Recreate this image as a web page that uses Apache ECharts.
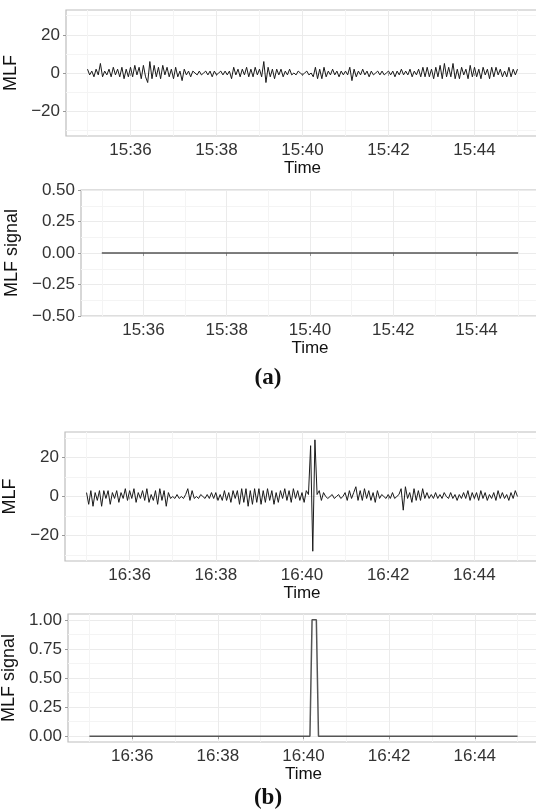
<!DOCTYPE html>
<html>
<head>
<meta charset="utf-8">
<script src="https://cdn.jsdelivr.net/npm/echarts@6/dist/echarts.min.js"></script>
<style>
  html, body { margin: 0; padding: 0; background: #fff; }
  #chart { width: 536px; height: 812px; }
</style>
</head>
<body>
<div id="chart"></div>
<script>
// MLF trace is sampled every 3 s from the start time
const sampleStep = 3
const startA = '15:35:00'
const startB = '16:35:00'

const mlfA = [
  2, -1, 1, -2, 2, -1, 5, -2, 1, -1, 2, -2, 3, -1, 2, -2, 3, -3, 2, -2,
  3, -2, 4, -1, 3, -3, 4, -2, -5, 6, -3, 4, -2, 3, -3, 4, -1, 3, -2, 2,
  -3, 3, -2, 1, -4, 2, -1, 1, -2, 1, 0, -1, 1, -1, 0, 1, -1, 1, -2, 1,
  -1, 0, 1, -1, 1, -1, 1, -3, 3, -1, 2, -2, 2, -1, 3, -2, 2, -2, 3, -1,
  2, -2, 6, -5, 3, -2, 2, -3, 2, -1, 2, -2, 1, -1, 2, -1, 0, -1, 1, 0,
  -1, 0, 1, -1, 0, -2, 3, -3, 2, -3, 3, -2, 1, -1, 2, -1, 1, -2, 1, -1,
  1, -1, 3, -4, 2, -2, 1, -1, 2, -1, 1, -2, 1, -1, 0, 1, -1, 1, -1, 0,
  1, -1, 1, -2, 1, -1, 2, -1, 1, -1, 2, -2, 1, -1, 2, -2, 3, -2, 3, -2,
  2, -3, 3, -2, 4, -3, 5, -2, 3, -2, 5, -3, 2, -3, 3, -1, 2, -3, 4, -2,
  3, -2, 2, -3, 3, -1, 2, -3, 3, -2, 3, -1, 2, -2, 1, -2, 3, -2, 2, -1, 2
]

const mlfB = [
  2, -4, 3, -5, 2, -2, 3, -5, 3, -1, 3, -4, 2, -1, 3, -3, 2, -1, 4, -2,
  3, -1, 4, -3, 2, -1, 3, -2, 4, -3, 1, -2, 3, -4, 4, -2, 3, -5, 2, -1,
  0, -1, 1, -1, 0, -1, 1, 4, -2, 3, -1, 0, -1, 1, 0, -1, 1, -1, 2, -1,
  2, -2, 1, -2, 3, -2, 2, -3, 3, -1, 3, -4, 4, -3, 4, -5, 3, -4, 4, -3,
  4, -4, 3, -3, 4, -2, 3, -4, 2, -3, 3, -1, 4, -2, 3, -3, 4, -1, 3, -2,
  2, -3, 3, 1, 26, -28, 29, 1, 3, -2, 2, 0, -1, 0, 1, -1, 0, 1, -1, 0,
  2, -2, 3, -1, 2, 5, -2, 3, -2, 4, -1, 3, -2, 2, -3, 3, -1, 1, 0, -1,
  1, -1, 2, -1, 0, 1, 4, -7, 5, -1, 2, -3, 4, -2, 3, -2, 4, -1, 2, -1,
  1, -1, 2, -1, 1, -1, 2, 0, -1, 2, -1, 1, -2, 1, -1, 2, -1, 3, -2, 2,
  -1, 2, -2, 3, -1, 2, -2, 1, -1, 2, -2, 3, -1, 2, -1, 1, -2, 2, -1, 3, 0
]

// detection signal, given at its corner points
const signalTimesA = ['15:35:00', '15:45:00']
const signalA = [0, 0]
const signalTimesB = ['16:35:00', '16:40:09', '16:40:12', '16:40:18', '16:40:21', '16:45:00']
const signalB = [0, 0, 1, 1, 0, 0]

const timeTicksA = ['15:36', '15:38', '15:40', '15:42', '15:44']
const timeMinorA = ['15:35', '15:37', '15:39', '15:41', '15:43', '15:45']
const timeTicksB = ['16:36', '16:38', '16:40', '16:42', '16:44']
const timeMinorB = ['16:35', '16:37', '16:39', '16:41', '16:43', '16:45']

const mlfTicks = [-20, 0, 20]
const mlfMinor = [-30, -10, 10, 30]
const signalTicksA = [-0.5, -0.25, 0, 0.25, 0.5]
const signalMinorA = [-0.375, -0.125, 0.125, 0.375]
const signalTicksB = [0, 0.25, 0.5, 0.75, 1]
const signalMinorB = [0.125, 0.375, 0.625, 0.875]

// 'hh:mm[:ss]' -> minutes since midnight
function toMin(t) {
  const p = t.split(':').map(Number)
  return p[0] * 60 + p[1] + (p[2] || 0) / 60
}
function fmtTime(v) {
  const h = Math.floor(v / 60)
  const m = Math.round(v - h * 60)
  return h + ':' + (m < 10 ? '0' + m : m)
}
function fmtNum(digits) {
  return v => (v < 0 ? '\u2212' : '') + Math.abs(v).toFixed(digits)
}

const font = 'Liberation Sans, Arial, sans-serif'
const majorLine = { show: true, lineStyle: { color: '#ebebeb', width: 1 } }
const minorLine = { show: true, lineStyle: { color: '#f4f4f4', width: 1 } }

const panels = [
  { grid: { left: 66, top: 10, height: 126 }, x: [timeTicksA, timeMinorA, startA],
    y: { min: -33, max: 33, ticks: mlfTicks, minor: mlfMinor, name: 'MLF', gap: 36, fmt: fmtNum(0) } },
  { grid: { left: 81, top: 190, height: 126 }, x: [timeTicksA, timeMinorA, startA],
    y: { min: -0.5, max: 0.5, ticks: signalTicksA, minor: signalMinorA, name: 'MLF signal', gap: 51, fmt: fmtNum(2) } },
  { grid: { left: 65, top: 432, height: 129 }, x: [timeTicksB, timeMinorB, startB],
    y: { min: -33, max: 33, ticks: mlfTicks, minor: mlfMinor, name: 'MLF', gap: 35, fmt: fmtNum(0) } },
  { grid: { left: 68, top: 614, height: 128 }, x: [timeTicksB, timeMinorB, startB],
    y: { min: -0.05, max: 1.05, ticks: signalTicksB, minor: signalMinorB, name: 'MLF signal', gap: 38, fmt: fmtNum(2) } }
]

const grid = []
const xAxis = []
const yAxis = []
panels.forEach((p, i) => {
  grid.push(Object.assign({
    right: -3, outerBoundsMode: 'none', containLabel: false,
    show: true, borderColor: '#bdbdbd', borderWidth: 1.2, backgroundColor: '#fff'
  }, p.grid))
  const x0 = toMin(p.x[2]) - 0.5
  const major = p.x[0].map(toMin)
  const minor = p.x[1].map(toMin)
  xAxis.push({
    type: 'value', gridIndex: i, position: 'bottom', min: x0, max: x0 + 11,
    name: 'Time', nameLocation: 'middle', nameGap: 23,
    nameTextStyle: { fontSize: 17, color: '#111', fontFamily: font },
    axisLine: { show: false },
    axisTick: { show: true, length: 3, customValues: major, lineStyle: { color: '#999' } },
    axisLabel: { customValues: major, formatter: fmtTime, fontSize: 17, color: '#333', fontFamily: font, margin: 6 },
    splitLine: majorLine
  })
  xAxis.push({
    type: 'value', gridIndex: i, position: 'bottom', min: x0, max: x0 + 11,
    axisLine: { show: false }, axisLabel: { show: false },
    axisTick: { show: false, customValues: minor },
    splitLine: minorLine
  })
  yAxis.push({
    type: 'value', gridIndex: i, position: 'left', min: p.y.min, max: p.y.max,
    name: p.y.name, nameLocation: 'middle', nameGap: p.y.gap,
    nameTextStyle: { fontSize: 18, color: '#111', fontFamily: font },
    axisLine: { show: false },
    axisTick: { show: true, length: 3, customValues: p.y.ticks, lineStyle: { color: '#999' } },
    axisLabel: { customValues: p.y.ticks, formatter: p.y.fmt, fontSize: 17, color: '#333', fontFamily: font, margin: 6 },
    splitLine: majorLine
  })
  yAxis.push({
    type: 'value', gridIndex: i, position: 'left', min: p.y.min, max: p.y.max,
    axisLine: { show: false }, axisLabel: { show: false },
    axisTick: { show: false, customValues: p.y.minor },
    splitLine: minorLine
  })
})

function traceData(start, values) {
  const t0 = toMin(start)
  return values.map((v, i) => [t0 + i * sampleStep / 60, v])
}
function pointData(times, values) {
  return times.map((t, i) => [toMin(t), values[i]])
}

const lineSeries = (i, data, color, width) => ({
  type: 'line', xAxisIndex: i * 2, yAxisIndex: i * 2, data: data,
  showSymbol: false, animation: false, z: 5,
  lineStyle: { color: color, width: width }
})

const chart = echarts.init(document.getElementById('chart'), null, { renderer: 'canvas' })
chart.setOption({
  animation: false,
  title: [
    { text: '(a)', left: 'center', top: 362, textStyle: { fontFamily: 'Liberation Serif, serif', fontWeight: 'bold', fontSize: 23, color: '#111' } },
    { text: '(b)', left: 'center', top: 782, textStyle: { fontFamily: 'Liberation Serif, serif', fontWeight: 'bold', fontSize: 23, color: '#111' } }
  ],
  grid: grid,
  xAxis: xAxis,
  yAxis: yAxis,
  series: [
    lineSeries(0, traceData(startA, mlfA), '#1a1a1a', 1),
    lineSeries(1, pointData(signalTimesA, signalA), '#555', 1.5),
    lineSeries(2, traceData(startB, mlfB), '#1a1a1a', 1),
    lineSeries(3, pointData(signalTimesB, signalB), '#555', 1.5)
  ]
})
</script>
</body>
</html>
